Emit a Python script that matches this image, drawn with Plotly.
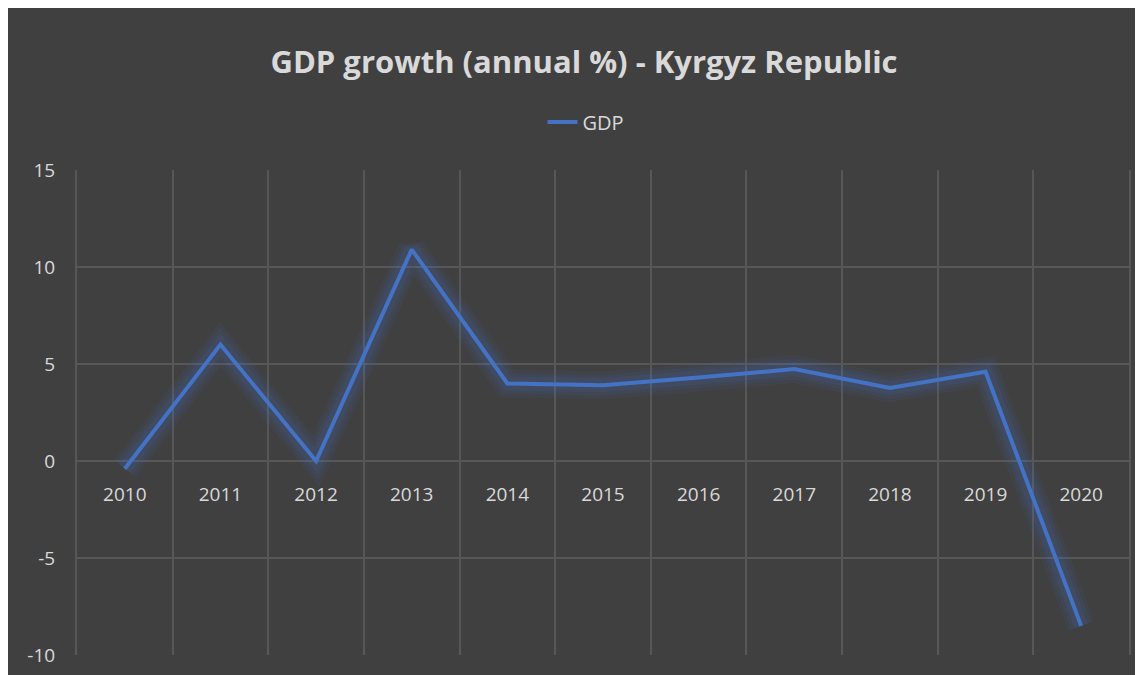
import plotly.graph_objects as go

years = ["2010", "2011", "2012", "2013", "2014", "2015", "2016", "2017", "2018", "2019", "2020"]
gdp = [-0.4, 6.0, 0.0, 10.9, 4.0, 3.9, 4.3, 4.74, 3.76, 4.6, -8.5]
y_ticks = [-10, -5, 0, 5, 10, 15]
y_tick_labels = ["-10", "-5", "0", "5", "10", "15"]

BG = "#404040"
TXT = "#d9d9d9"
GRID = "#575757"
LINE = "#4472C4"
FONT = "Open Sans"

W, H = 1143, 675
ML, MR, MT, MB = 69, 22, 162, 28
PW, PH = W - ML - MR, H - MT - MB

fig = go.Figure()

# soft glow behind the line
for w, a in [(28, 0.07), (21, 0.09), (14, 0.13)]:
    fig.add_trace(go.Scatter(
        x=years, y=gdp, mode="lines", showlegend=False, hoverinfo="skip",
        line=dict(color=f"rgba(68,114,196,{a})", width=w),
    ))

fig.add_trace(go.Scatter(
    x=years, y=gdp, mode="lines", name="GDP",
    line=dict(color=LINE, width=4),
))

fig.update_layout(
    width=W, height=H,
    margin=dict(l=ML, r=MR, t=MT, b=MB),
    paper_bgcolor=BG,
    plot_bgcolor=BG,
    font=dict(family=FONT, color=TXT, size=19),
    title=dict(
        text="<b>GDP growth (annual %) - Kyrgyz Republic</b>",
        x=576 / W, xanchor="center",
        y=1 - 54 / H, yanchor="middle",
        font=dict(family=FONT, size=31, color=TXT),
    ),
    showlegend=True,
    legend=dict(
        orientation="h",
        x=(578 - ML) / PW, xanchor="center",
        y=(H - MB - 114) / PH, yanchor="middle",
        font=dict(family=FONT, size=20, color=TXT),
        bgcolor="rgba(0,0,0,0)",
    ),
    xaxis=dict(
        type="category",
        tickson="boundaries",
        showgrid=True, gridcolor=GRID, gridwidth=2,
        showline=False, zeroline=False,
        ticks="", ticklabelstandoff=20,
        anchor="free", position=0.4,
        range=[-0.5, 10.5],
        tickfont=dict(family=FONT, size=19, color=TXT),
    ),
    yaxis=dict(
        range=[-10, 15],
        tickvals=y_ticks, ticktext=y_tick_labels,
        showgrid=True, gridcolor=GRID, gridwidth=2,
        zeroline=False,
        showline=True, linecolor=GRID, linewidth=2, mirror=True,
        ticks="outside", ticklen=16, tickcolor="rgba(0,0,0,0)",
        tickfont=dict(family=FONT, size=19, color=TXT),
    ),
)

fig.write_html("out.html")
